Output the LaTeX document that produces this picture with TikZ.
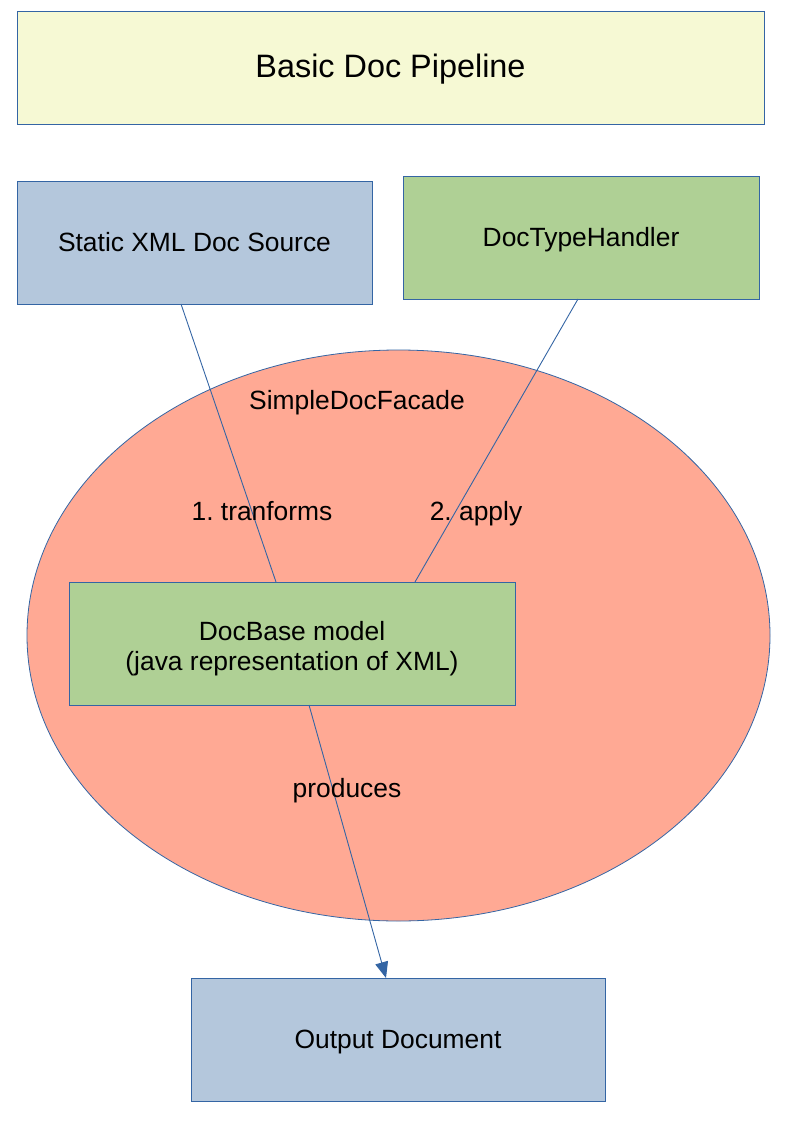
\documentclass[tikz,border=0pt]{standalone}
\usepackage{fontspec}
\setmainfont{Liberation Sans}
\usetikzlibrary{arrows.meta,shapes.geometric}
\definecolor{bord}{HTML}{3465A4}
\definecolor{yel}{HTML}{F6F9D4}
\definecolor{blu}{HTML}{B4C7DC}
\definecolor{grn}{HTML}{AFD095}
\definecolor{sal}{HTML}{FFA994}
\tikzset{
  box/.style={draw=bord, line width=0.8pt, inner sep=0pt, font=\fontsize{26.4}{30}\selectfont\frenchspacing, align=center, text height=24pt, text depth=6pt},
  lbl/.style={font=\fontsize{26.4}{30}\selectfont\frenchspacing, inner sep=0pt},
  conn/.style={draw=bord, line width=0.9pt}
}
\begin{document}
\begin{tikzpicture}[x=1pt,y=-1pt]
\useasboundingbox (0,0) rectangle (794,1123);
\node[box, fill=yel, minimum width=747pt, minimum height=113pt, font=\fontsize{32.4}{36}\selectfont, text height=28pt, text depth=7pt] (title) at (390.5,67.5) {Basic Doc Pipeline};
\node[box, fill=blu, minimum width=355pt, minimum height=123pt] (src) at (194.5,242.5) {Static XML Doc Source};
\node[box, fill=grn, minimum width=356pt, minimum height=123pt] (dth) at (581,237.5) {DocTypeHandler};
\node[draw=bord, line width=0.8pt, fill=sal, ellipse, minimum width=743pt, minimum height=571pt, inner sep=0pt] (fac) at (398.5,635.5) {};
\node[lbl] (facl) at (357,403) {SimpleDocFacade};
\node[box, fill=grn, minimum width=446pt, minimum height=123pt, text height=60pt, text depth=6pt] (model) at (292,643.5) {DocBase model\\(java representation of XML)};
\node[box, fill=blu, minimum width=414pt, minimum height=123pt] (out) at (398,1039.5) {Output Document};
\coordinate (a1) at (181,304);
\coordinate (a2) at (276,582);
\coordinate (b1) at (578,299);
\coordinate (b2) at (415,582);
\coordinate (c1) at (309,705);
\coordinate (c2) at (386,978);
\draw[conn] (a1) -- (a2);
\draw[conn] (b1) -- (b2);
\draw[conn, -{Triangle[length=16pt,width=13pt]}] (c1) -- (c2);
\node[lbl] (l1) at (262,511) {1. tranforms};
\node[lbl] (l2) at (476,514) {2. apply};
\node[lbl] (l3) at (347,791) {produces};
\end{tikzpicture}
\end{document}
